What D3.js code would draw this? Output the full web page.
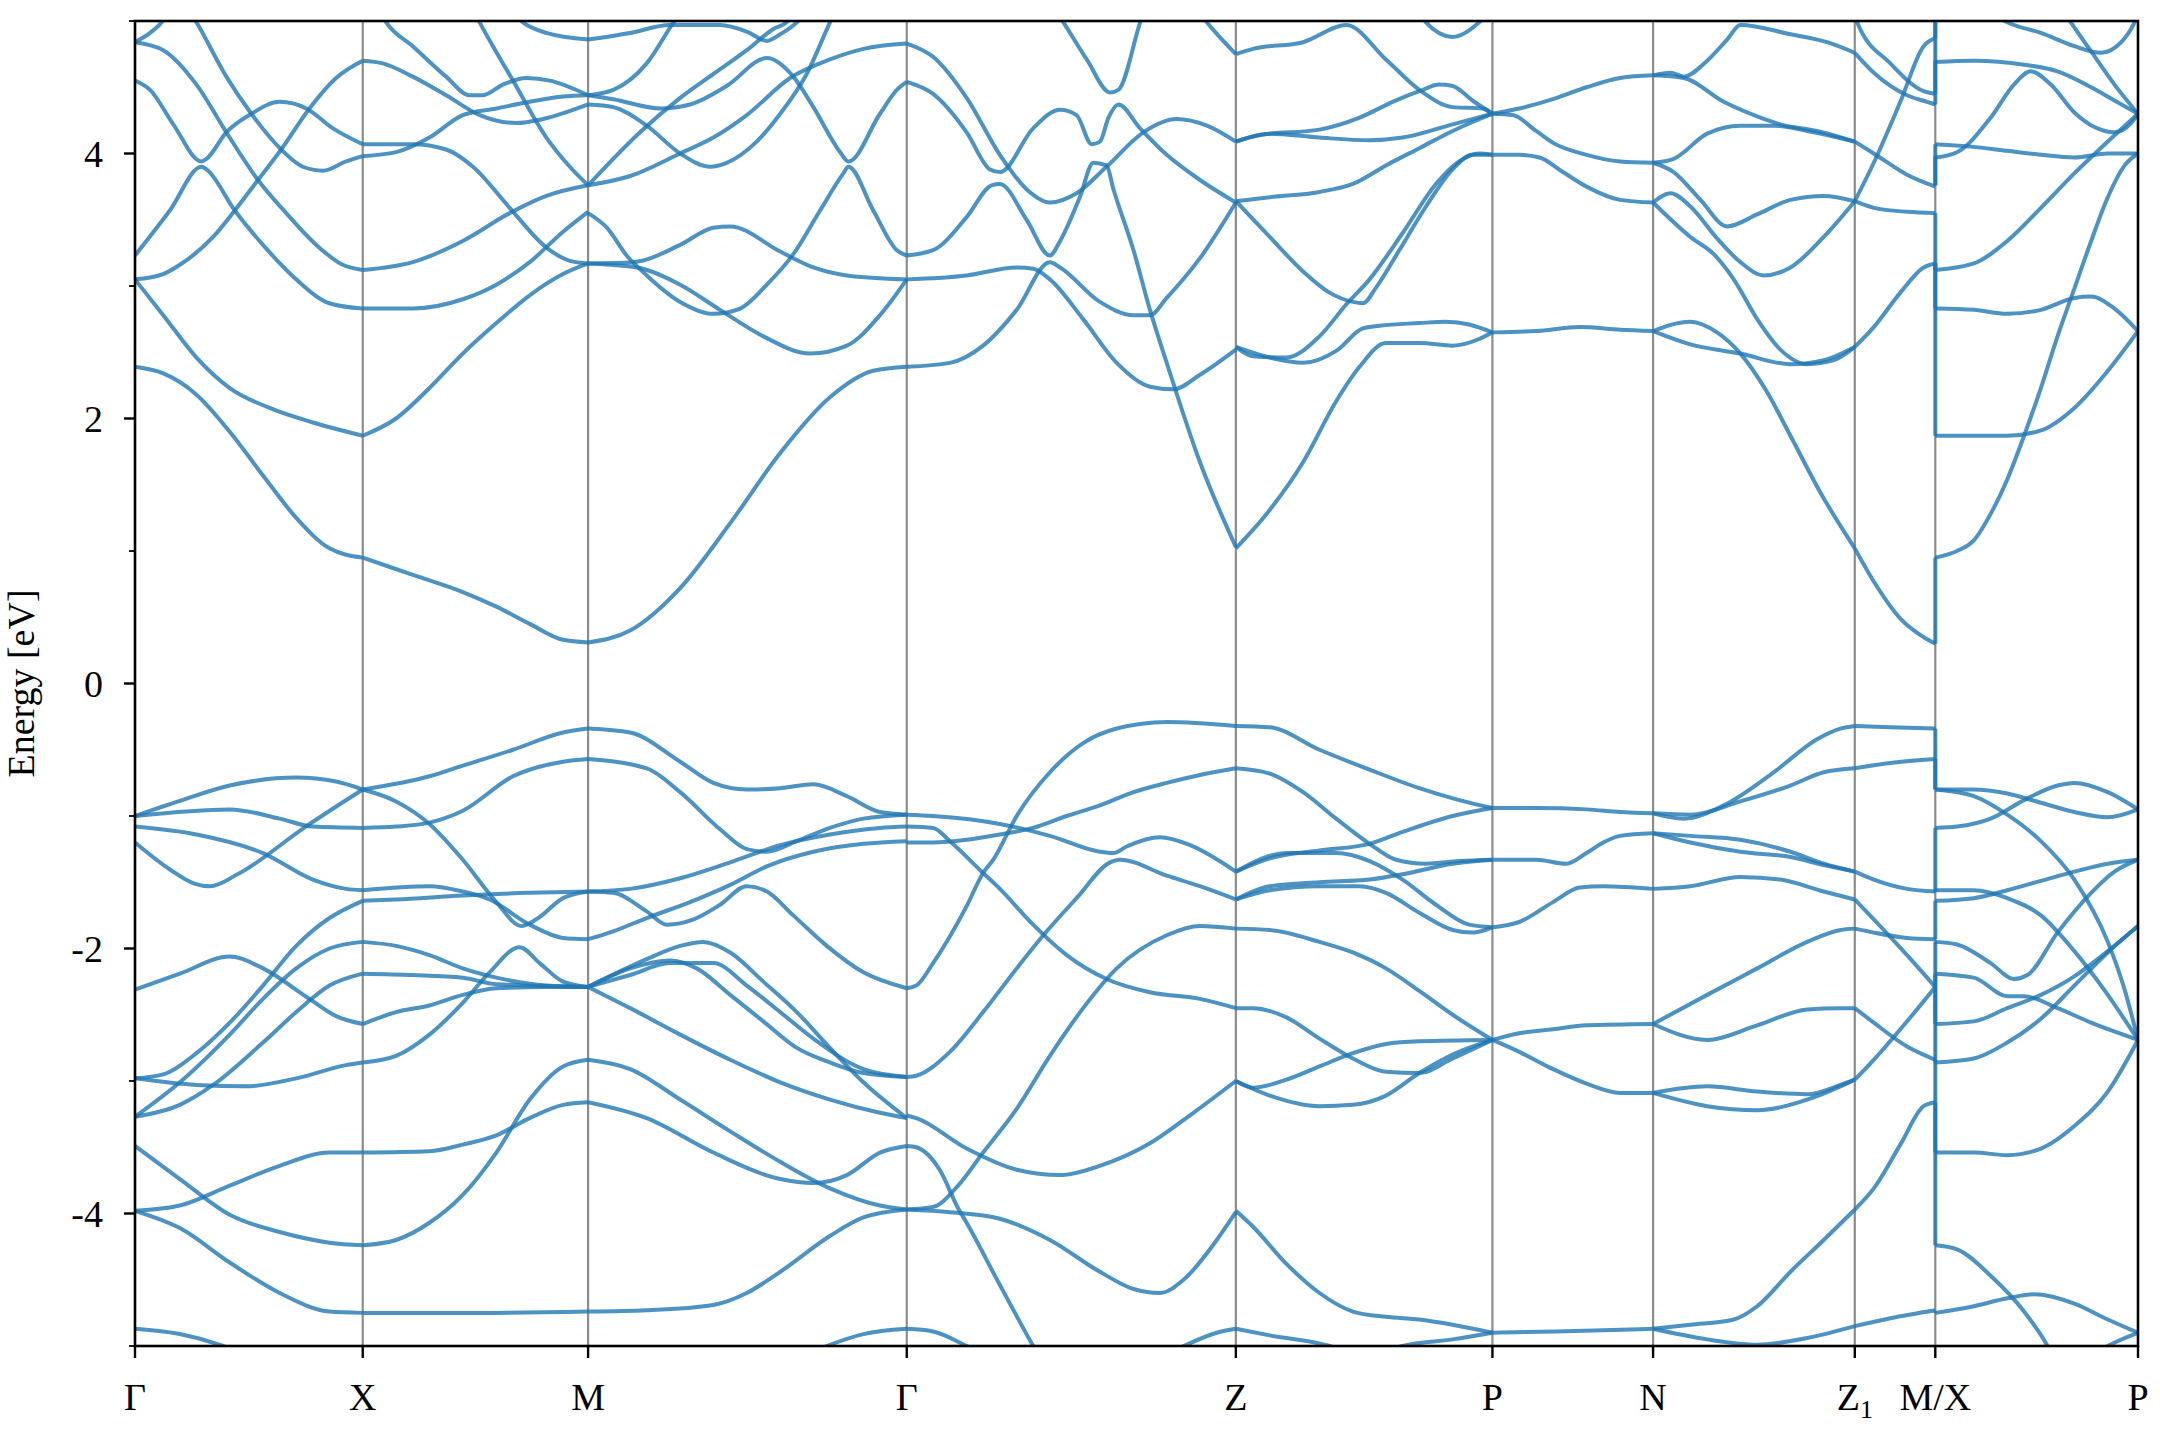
<!DOCTYPE html>
<html><head><meta charset="utf-8">
<script src="https://cdn.jsdelivr.net/npm/d3@7"></script>
<style>body{margin:0;background:#fff}</style>
</head><body><svg id="c" width="2160" height="1440"></svg>
<script>
const kLabels = ["Γ","X","M","Γ","Z","P","N","Z1","M/X","P"];
const kDist = [0,0.1137,0.2262,0.3853,0.5496,0.6777,0.7579,0.8586,0.8988,1.0];
const yTicks = [-4,-2,0,2,4];
const yMinor = [-5,-3,-1,1,3,5];

// each curve: [fraction along segment, energy eV]
const bandsGX = [
 [[0,4.84],[0.066,4.91],[0.117,4.99],[0.2,5.25]],
 [[0,4.84],[0.124,4.78],[0.27,4.52],[0.401,4.16],[0.54,3.80],[0.664,3.55],[0.796,3.31],[0.912,3.16],[1,3.12]],
 [[0,4.55],[0.066,4.48],[0.168,4.22],[0.292,3.94],[0.314,3.96],[0.401,4.16],[0.511,4.30],[0.635,4.39],[0.752,4.34],[0.869,4.19],[1,4.07]],
 [[0,3.23],[0.153,3.57],[0.292,3.90],[0.314,3.88],[0.438,3.57],[0.562,3.31],[0.708,3.05],[0.854,2.87],[1,2.83]],
 [[0,3.05],[0.124,3.09],[0.197,3.16],[0.343,3.37],[0.438,3.57],[0.54,3.80],[0.642,4.03],[0.766,4.34],[0.883,4.57],[1,4.70]],
 [[0,5.6],[0.15,5.3],[0.27,4.99],[0.401,4.58],[0.511,4.30],[0.642,4.03],[0.737,3.90],[0.825,3.87],[0.927,3.94],[1,3.98]],
 [[0,3.05],[0.124,2.78],[0.27,2.46],[0.416,2.23],[0.591,2.08],[0.781,1.97],[1,1.87]],
 [[0,2.39],[0.124,2.34],[0.27,2.18],[0.416,1.90],[0.562,1.57],[0.708,1.25],[0.854,1.02],[1,0.95]],
 [[0,-1.00],[0.197,-0.886],[0.416,-0.77],[0.708,-0.71],[0.883,-0.74],[1,-0.80]],
 [[0,-1.00],[0.416,-0.95],[0.635,-1.02],[0.781,-1.08],[1,-1.09]],
 [[0,-1.08],[0.27,-1.14],[0.562,-1.28],[0.781,-1.48],[0.927,-1.55],[1,-1.56]],
 [[0,-1.20],[0.15,-1.40],[0.26,-1.51],[0.33,-1.53],[0.45,-1.44],[0.75,-1.08],[1,-0.80]],
 [[0,-2.31],[0.197,-2.19],[0.416,-2.06],[0.562,-2.15],[0.766,-2.38],[0.883,-2.51],[1,-2.57]],
 [[0,-2.98],[0.124,-2.95],[0.27,-2.79],[0.416,-2.56],[0.562,-2.28],[0.708,-1.98],[0.854,-1.77],[1,-1.64]],
 [[0,-3.27],[0.197,-3.01],[0.416,-2.65],[0.562,-2.38],[0.708,-2.15],[0.854,-2.00],[1,-1.95]],
 [[0,-3.27],[0.197,-3.18],[0.343,-3.03],[0.562,-2.71],[0.708,-2.48],[0.854,-2.28],[1,-2.19]],
 [[0,-2.98],[0.27,-3.03],[0.489,-3.04],[0.708,-2.98],[0.927,-2.88],[1,-2.86]],
 [[0,-3.49],[0.197,-3.74],[0.416,-4.01],[0.635,-4.14],[0.854,-4.22],[1,-4.24]],
 [[0,-3.98],[0.197,-3.94],[0.416,-3.79],[0.635,-3.64],[0.854,-3.54],[1,-3.54]],
 [[0,-3.98],[0.197,-4.11],[0.416,-4.37],[0.635,-4.60],[0.854,-4.74],[1,-4.75]],
 [[0,-4.87],[0.197,-4.91],[0.387,-5.0],[0.562,-5.13]]
];
const bandsXM = [
 [[0,4.70],[0.089,4.68],[0.222,4.58],[0.37,4.44],[0.519,4.29],[0.681,4.23],[0.8,4.26],[1,4.37]],
 [[0,3.98],[0.148,4.01],[0.296,4.12],[0.444,4.29],[0.593,4.34],[0.741,4.39],[0.889,4.43],[1,4.44]],
 [[0,5.35],[0.104,4.99],[0.222,4.81],[0.37,4.58],[0.474,4.44],[0.533,4.44],[0.622,4.52],[0.726,4.57],[0.83,4.55],[1,4.44]],
 [[0.4,5.4],[0.519,4.99],[0.667,4.55],[0.815,4.12],[0.919,3.90],[1,3.76]],
 [[0.6,5.2],[0.711,4.99],[0.815,4.91],[1,4.86]],
 [[0,4.07],[0.222,4.07],[0.37,4.03],[0.489,3.90],[0.652,3.59],[0.815,3.29],[0.919,3.19],[1,3.17]],
 [[0,3.12],[0.222,3.18],[0.444,3.34],[0.652,3.55],[0.815,3.68],[1,3.76]],
 [[0,2.83],[0.222,2.83],[0.444,2.90],[0.593,3.01],[0.741,3.18],[0.889,3.41],[1,3.56]],
 [[0,1.87],[0.148,2.00],[0.296,2.23],[0.444,2.49],[0.593,2.72],[0.741,2.93],[0.889,3.09],[1,3.17]],
 [[0,0.95],[0.222,0.82],[0.444,0.69],[0.593,0.58],[0.741,0.45],[0.889,0.33],[1,0.31]],
 [[0,-0.80],[0.296,-0.70],[0.444,-0.62],[0.667,-0.50],[0.889,-0.37],[1,-0.34]],
 [[0,-0.80],[0.148,-0.89],[0.296,-1.06],[0.444,-1.33],[0.593,-1.65],[0.704,-1.83],[0.77,-1.78],[0.889,-1.62],[1,-1.57]],
 [[0,-1.09],[0.148,-1.08],[0.296,-1.05],[0.444,-0.96],[0.667,-0.70],[0.889,-0.59],[1,-0.57]],
 [[0,-1.56],[0.296,-1.53],[0.444,-1.57],[0.563,-1.63],[0.741,-1.82],[0.889,-1.92],[1,-1.93]],
 [[0,-1.64],[0.148,-1.63],[0.444,-1.60],[0.741,-1.58],[1,-1.57]],
 [[0,-1.95],[0.148,-1.98],[0.296,-2.05],[0.444,-2.15],[0.593,-2.22],[0.815,-2.28],[1,-2.29]],
 [[0,-2.19],[0.222,-2.20],[0.444,-2.22],[0.593,-2.27],[1,-2.29]],
 [[0,-2.57],[0.148,-2.48],[0.296,-2.43],[0.444,-2.35],[0.593,-2.30],[0.815,-2.29],[1,-2.29]],
 [[0,-2.86],[0.148,-2.81],[0.296,-2.65],[0.444,-2.41],[0.563,-2.18],[0.696,-1.99],[0.785,-2.11],[0.889,-2.25],[1,-2.29]],
 [[0,-3.54],[0.296,-3.53],[0.444,-3.48],[0.593,-3.41],[0.741,-3.28],[0.889,-3.18],[1,-3.16]],
 [[0,-4.24],[0.148,-4.20],[0.296,-4.07],[0.444,-3.86],[0.593,-3.54],[0.741,-3.14],[0.889,-2.89],[1,-2.84]],
 [[0,-4.75],[0.5,-4.75],[1,-4.74]]
];
const bandsMG = [
 [[0,4.86],[0.132,4.91],[0.257,4.97],[0.414,4.97],[0.498,4.92],[0.561,4.85],[0.603,4.90],[0.655,4.99],[0.72,5.2]],
 [[0,4.44],[0.079,4.48],[0.184,4.68],[0.268,4.99],[0.33,5.2]],
 [[0,4.44],[0.079,4.41],[0.226,4.34],[0.32,4.37],[0.435,4.51],[0.561,4.72],[0.644,4.58],[0.707,4.35],[0.791,4.01],[0.817,3.94],[0.916,4.30],[0.969,4.48],[1,4.54]],
 [[0,4.37],[0.079,4.35],[0.184,4.21],[0.289,4.00],[0.383,3.90],[0.435,3.93],[0.529,4.09],[0.603,4.30],[0.686,4.60],[0.759,4.99],[0.8,5.2]],
 [[0,3.76],[0.079,3.96],[0.163,4.16],[0.289,4.42],[0.393,4.60],[0.498,4.78],[0.582,4.94],[0.623,4.99],[0.68,5.2]],
 [[0,3.76],[0.132,3.83],[0.289,4.00],[0.393,4.12],[0.498,4.29],[0.634,4.57],[0.759,4.71],[0.864,4.79],[1,4.83]],
 [[0,3.55],[0.059,3.44],[0.121,3.23],[0.184,3.08],[0.289,2.88],[0.393,2.79],[0.477,2.83],[0.561,3.01],[0.644,3.24],[0.728,3.57],[0.801,3.85],[0.817,3.90],[0.895,3.57],[0.969,3.27],[1,3.23]],
 [[0,3.17],[0.153,3.14],[0.289,3.01],[0.414,2.82],[0.55,2.62],[0.697,2.49],[0.812,2.55],[0.916,2.78],[1,3.05]],
 [[0,3.17],[0.142,3.18],[0.289,3.31],[0.393,3.44],[0.446,3.45],[0.603,3.26],[0.707,3.14],[0.812,3.08],[1,3.05]],
 [[0,0.31],[0.132,0.40],[0.289,0.72],[0.446,1.21],[0.603,1.74],[0.759,2.16],[0.895,2.36],[1,2.39]],
 [[0,-0.34],[0.132,-0.37],[0.289,-0.59],[0.393,-0.75],[0.498,-0.80],[0.603,-0.79],[0.707,-0.76],[0.812,-0.85],[0.916,-0.97],[1,-0.99]],
 [[0,-0.57],[0.184,-0.64],[0.289,-0.82],[0.414,-1.10],[0.498,-1.25],[0.561,-1.27],[0.655,-1.19],[0.759,-1.09],[0.864,-1.02],[1,-0.99]],
 [[0,-1.57],[0.079,-1.58],[0.184,-1.72],[0.247,-1.82],[0.331,-1.78],[0.414,-1.67],[0.498,-1.53],[0.561,-1.57],[0.644,-1.75],[0.749,-1.98],[0.864,-2.18],[1,-2.30]],
 [[0,-1.57],[0.132,-1.55],[0.289,-1.47],[0.446,-1.35],[0.603,-1.22],[0.759,-1.14],[0.916,-1.09],[1,-1.08]],
 [[0,-1.93],[0.079,-1.87],[0.184,-1.77],[0.32,-1.65],[0.446,-1.52],[0.561,-1.38],[0.707,-1.27],[0.864,-1.21],[1,-1.19]],
 [[0,-2.29],[0.132,-2.15],[0.257,-2.09],[0.341,-2.15],[0.446,-2.35],[0.55,-2.55],[0.655,-2.75],[0.759,-2.86],[0.864,-2.94],[1,-2.97]],
 [[0,-2.29],[0.184,-2.08],[0.289,-1.98],[0.362,-1.95],[0.446,-2.03],[0.55,-2.25],[0.655,-2.48],[0.759,-2.75],[0.864,-3.01],[1,-3.28]],
 [[0,-2.29],[0.132,-2.45],[0.289,-2.65],[0.446,-2.84],[0.603,-3.01],[0.759,-3.14],[0.916,-3.24],[1,-3.28]],
 [[0,-2.29],[0.132,-2.20],[0.257,-2.11],[0.393,-2.11],[0.498,-2.28],[0.603,-2.48],[0.707,-2.68],[0.864,-2.91],[1,-2.97]],
 [[0,-4.74],[0.184,-4.73],[0.393,-4.69],[0.498,-4.60],[0.603,-4.44],[0.759,-4.17],[0.864,-4.03],[1,-3.97]],
 [[0,-2.84],[0.132,-2.91],[0.289,-3.14],[0.446,-3.38],[0.603,-3.61],[0.759,-3.81],[0.916,-3.94],[1,-3.97]],
 [[0,-3.16],[0.184,-3.28],[0.393,-3.54],[0.603,-3.74],[0.707,-3.77],[0.812,-3.71],[0.916,-3.54],[1,-3.49]],
 [[0.65,-5.1],[0.749,-5.0],[0.864,-4.91],[1,-4.87]]
];
const bandsGZ = [
 [[0,4.83],[0.08,4.73],[0.182,4.42],[0.283,3.99],[0.364,3.73],[0.435,3.63],[0.516,3.70],[0.607,3.90],[0.719,4.16],[0.82,4.26],[0.912,4.21],[1,4.09]],
 [[0,4.54],[0.08,4.45],[0.182,4.16],[0.253,3.88],[0.283,3.86],[0.384,4.19],[0.466,4.33],[0.516,4.29],[0.562,4.07],[0.587,4.09],[0.613,4.27],[0.643,4.37],[0.709,4.19],[0.79,3.99],[0.891,3.80],[1,3.63]],
 [[0,3.23],[0.08,3.27],[0.182,3.52],[0.258,3.76],[0.283,3.77],[0.364,3.50],[0.435,3.23],[0.466,3.34],[0.526,3.67],[0.567,3.93],[0.607,3.91],[0.628,3.73],[0.689,3.27],[0.739,2.82],[0.79,2.42],[0.891,1.67],[1,1.03]],
 [[0,3.05],[0.182,3.08],[0.334,3.14],[0.384,3.13],[0.435,3.05],[0.536,2.75],[0.638,2.42],[0.739,2.24],[0.81,2.22],[0.891,2.33],[1,2.52]],
 [[0,2.39],[0.131,2.42],[0.232,2.55],[0.334,2.82],[0.435,3.18],[0.466,3.14],[0.587,2.88],[0.689,2.78],[0.739,2.78],[0.79,2.91],[0.891,3.21],[1,3.63]],
 [[0.42,5.2],[0.476,4.99],[0.547,4.71],[0.618,4.46],[0.643,4.48],[0.709,4.99],[0.75,5.3]],
 [[0.85,5.2],[0.912,4.99],[1,4.75]],
 [[0,-1.08],[0.08,-1.09],[0.131,-1.19],[0.232,-1.43],[0.283,-1.55],[0.384,-1.82],[0.486,-2.05],[0.607,-2.23],[0.739,-2.33],[0.891,-2.38],[1,-2.45]],
 [[0,-2.30],[0.029,-2.28],[0.08,-2.11],[0.182,-1.68],[0.232,-1.43],[0.263,-1.33],[0.334,-1.00],[0.435,-0.67],[0.536,-0.45],[0.638,-0.34],[0.79,-0.29],[1,-0.32]],
 [[0,-0.99],[0.08,-1.00],[0.283,-1.06],[0.435,-1.15],[0.587,-1.27],[0.628,-1.28],[0.668,-1.23],[0.77,-1.16],[0.861,-1.22],[1,-1.42]],
 [[0,-1.20],[0.08,-1.20],[0.182,-1.18],[0.283,-1.14],[0.384,-1.09],[0.486,-1.00],[0.587,-0.92],[0.689,-0.82],[0.79,-0.75],[0.891,-0.69],[1,-0.64]],
 [[0,-2.97],[0.029,-2.96],[0.131,-2.78],[0.232,-2.48],[0.334,-2.15],[0.415,-1.90],[0.516,-1.62],[0.618,-1.35],[0.648,-1.33],[0.79,-1.45],[0.891,-1.53],[1,-1.63]],
 [[0,-3.26],[0.029,-3.28],[0.182,-3.51],[0.334,-3.67],[0.466,-3.71],[0.587,-3.64],[0.739,-3.47],[0.871,-3.24],[1,-3.00]],
 [[0,-3.49],[0.029,-3.50],[0.1,-3.67],[0.156,-3.96],[0.182,-4.07],[0.283,-4.54],[0.384,-5.0],[0.5,-5.5]],
 [[0,-3.97],[0.08,-3.95],[0.156,-3.79],[0.232,-3.54],[0.334,-3.21],[0.435,-2.81],[0.536,-2.45],[0.638,-2.15],[0.79,-1.90],[0.891,-1.83],[1,-1.85]],
 [[0,-3.97],[0.131,-3.99],[0.283,-4.04],[0.435,-4.20],[0.587,-4.44],[0.689,-4.57],[0.77,-4.60],[0.841,-4.50],[0.942,-4.20],[1,-3.99]],
 [[0,-4.87],[0.08,-4.89],[0.182,-5.0],[0.3,-5.15]],
 [[0.75,-5.1],[0.841,-5.0],[0.942,-4.90],[1,-4.87]]
];
const bandsZP = [
 [[0,4.75],[0.067,4.79],[0.262,4.84],[0.43,4.97],[0.585,4.71],[0.715,4.48],[0.845,4.35],[0.961,4.34],[1,4.30]],
 [[0.68,5.2],[0.741,4.99],[0.845,4.88],[0.948,4.99],[1,5.1]],
 [[0,4.09],[0.093,4.14],[0.326,4.18],[0.482,4.27],[0.611,4.39],[0.715,4.47],[0.793,4.52],[0.845,4.51],[0.922,4.40],[1,4.30]],
 [[0,4.09],[0.132,4.15],[0.326,4.12],[0.521,4.10],[0.65,4.12],[0.845,4.22],[1,4.30]],
 [[0,3.64],[0.132,3.67],[0.326,3.71],[0.456,3.77],[0.585,3.91],[0.715,4.04],[0.845,4.17],[1,4.30]],
 [[0,3.64],[0.132,3.37],[0.262,3.11],[0.365,2.95],[0.456,2.88],[0.495,2.87],[0.547,2.99],[0.637,3.27],[0.741,3.60],[0.845,3.88],[0.922,3.99],[1,3.99]],
 [[0,2.54],[0.067,2.47],[0.197,2.46],[0.326,2.62],[0.43,2.86],[0.521,3.05],[0.65,3.40],[0.78,3.77],[0.87,3.94],[0.948,4.00],[1,3.99]],
 [[0,2.54],[0.132,2.46],[0.262,2.42],[0.391,2.51],[0.495,2.68],[0.56,2.70],[0.715,2.72],[0.819,2.73],[0.909,2.71],[1,2.65]],
 [[0,1.02],[0.132,1.31],[0.262,1.67],[0.391,2.13],[0.482,2.39],[0.585,2.57],[0.715,2.57],[0.845,2.55],[0.948,2.60],[1,2.65]],
 [[0,-0.32],[0.132,-0.33],[0.326,-0.50],[0.521,-0.65],[0.715,-0.79],[0.87,-0.88],[1,-0.94]],
 [[0,-0.64],[0.132,-0.68],[0.262,-0.82],[0.391,-1.02],[0.521,-1.21],[0.624,-1.33],[0.741,-1.36],[0.87,-1.34],[1,-1.33]],
 [[0,-1.42],[0.132,-1.32],[0.326,-1.26],[0.521,-1.21],[0.65,-1.12],[0.845,-1.00],[1,-0.94]],
 [[0,-1.42],[0.197,-1.28],[0.391,-1.28],[0.521,-1.34],[0.65,-1.48],[0.78,-1.67],[0.909,-1.82],[1,-1.84]],
 [[0,-1.63],[0.132,-1.53],[0.326,-1.50],[0.521,-1.48],[0.65,-1.44],[0.845,-1.36],[1,-1.33]],
 [[0,-1.63],[0.132,-1.56],[0.326,-1.53],[0.482,-1.53],[0.585,-1.58],[0.715,-1.73],[0.845,-1.86],[0.922,-1.88],[1,-1.84]],
 [[0,-1.85],[0.132,-1.86],[0.326,-1.95],[0.456,-2.03],[0.585,-2.15],[0.715,-2.32],[0.845,-2.50],[1,-2.69]],
 [[0,-2.45],[0.067,-2.45],[0.197,-2.52],[0.326,-2.68],[0.456,-2.83],[0.585,-2.93],[0.715,-2.94],[0.845,-2.83],[1,-2.69]],
 [[0,-3.00],[0.067,-3.05],[0.197,-2.99],[0.326,-2.89],[0.456,-2.79],[0.585,-2.72],[0.715,-2.70],[1,-2.69]],
 [[0,-3.00],[0.132,-3.11],[0.326,-3.19],[0.456,-3.18],[0.585,-3.11],[0.715,-2.94],[0.845,-2.80],[1,-2.69]],
 [[0,-3.98],[0.067,-4.10],[0.197,-4.38],[0.326,-4.60],[0.456,-4.74],[0.585,-4.78],[0.715,-4.80],[0.845,-4.84],[1,-4.90]],
 [[0,-4.87],[0.132,-4.92],[0.365,-5.0],[0.5,-5.1]],
 [[0.5,-5.1],[0.65,-5.0],[0.845,-4.95],[1,-4.90]]
];
const bandsPN = [
 [[0,4.30],[0.167,4.34],[0.377,4.41],[0.586,4.50],[0.795,4.57],[1,4.59]],
 [[0,4.30],[0.126,4.29],[0.272,4.17],[0.377,4.08],[0.586,3.99],[0.795,3.94],[1,3.93]],
 [[0,3.99],[0.167,3.99],[0.293,3.97],[0.439,3.86],[0.586,3.75],[0.795,3.65],[1,3.63]],
 [[0,2.65],[0.272,2.66],[0.544,2.69],[0.795,2.67],[1,2.66]],
 [[0,-0.94],[0.272,-0.94],[0.586,-0.95],[0.795,-0.97],[1,-0.98]],
 [[0,-1.33],[0.272,-1.33],[0.46,-1.36],[0.586,-1.28],[0.69,-1.20],[0.795,-1.15],[1,-1.13]],
 [[0,-1.84],[0.167,-1.80],[0.377,-1.65],[0.544,-1.54],[0.69,-1.53],[1,-1.55]],
 [[0,-2.69],[0.167,-2.64],[0.377,-2.61],[0.586,-2.58],[1,-2.57]],
 [[0,-2.69],[0.167,-2.78],[0.377,-2.91],[0.586,-3.02],[0.795,-3.09],[1,-3.09]],
 [[0,-4.90],[0.4,-4.89],[1,-4.87]]
];
const bandsNZ1 = [
 [[0,4.59],[0.086,4.61],[0.152,4.58],[0.268,4.70],[0.367,4.86],[0.433,4.97],[0.681,4.90],[0.863,4.84],[1,4.76]],
 [[0,4.59],[0.152,4.57],[0.35,4.39],[0.516,4.28],[0.631,4.22],[0.813,4.17],[1,4.09]],
 [[0,3.93],[0.102,3.96],[0.268,4.15],[0.433,4.21],[0.598,4.21],[0.764,4.17],[1,4.09]],
 [[0,3.93],[0.102,3.86],[0.235,3.65],[0.367,3.45],[0.516,3.54],[0.681,3.65],[0.846,3.68],[1,3.64]],
 [[0,3.63],[0.086,3.70],[0.185,3.60],[0.317,3.36],[0.433,3.18],[0.549,3.08],[0.681,3.14],[0.846,3.37],[1,3.64]],
 [[0,3.63],[0.185,3.37],[0.301,3.24],[0.4,3.05],[0.516,2.75],[0.631,2.52],[0.764,2.41],[0.896,2.44],[1,2.54]],
 [[0,2.66],[0.185,2.73],[0.317,2.65],[0.433,2.49],[0.565,2.20],[0.681,1.87],[0.83,1.44],[1,1.02]],
 [[0,2.66],[0.185,2.56],[0.433,2.49],[0.681,2.41],[0.846,2.44],[1,2.54]],
 [[0,-0.98],[0.152,-1.02],[0.35,-0.92],[0.598,-0.67],[0.813,-0.42],[0.929,-0.34],[1,-0.32]],
 [[0,-0.98],[0.185,-0.99],[0.433,-0.89],[0.681,-0.77],[0.846,-0.67],[1,-0.64]],
 [[0,-1.13],[0.185,-1.15],[0.433,-1.18],[0.681,-1.27],[0.846,-1.36],[1,-1.42]],
 [[0,-1.13],[0.185,-1.20],[0.433,-1.27],[0.681,-1.31],[0.846,-1.37],[1,-1.42]],
 [[0,-1.55],[0.185,-1.53],[0.433,-1.46],[0.631,-1.48],[0.846,-1.57],[1,-1.63]],
 [[0,-2.57],[0.268,-2.35],[0.516,-2.15],[0.764,-1.95],[0.929,-1.86],[1,-1.85]],
 [[0,-2.57],[0.268,-2.69],[0.516,-2.58],[0.764,-2.46],[0.929,-2.45],[1,-2.45]],
 [[0,-3.09],[0.268,-3.04],[0.516,-3.08],[0.764,-3.10],[0.929,-3.03],[1,-2.99]],
 [[0,-3.09],[0.268,-3.19],[0.516,-3.22],[0.764,-3.14],[0.929,-3.04],[1,-2.99]],
 [[0,-4.87],[0.185,-4.84],[0.4,-4.80],[0.516,-4.70],[0.681,-4.44],[0.846,-4.20],[1,-3.97]],
 [[0,-4.87],[0.268,-4.95],[0.516,-4.99],[0.764,-4.94],[1,-4.85]]
];
const bandsZ1M = [
 [[0,5.05],[0.029,4.99],[0.442,4.68],[0.855,4.47],[1,4.45]],
 [[0,4.76],[0.236,4.61],[0.649,4.44],[0.897,4.39],[1,4.37]],
 [[0,4.09],[0.236,4.00],[0.649,3.84],[1,3.75]],
 [[0,3.64],[0.236,3.93],[0.566,4.39],[0.855,4.81],[1,4.87]],
 [[0,3.64],[0.236,3.59],[0.649,3.56],[1,3.55]],
 [[0,2.54],[0.236,2.69],[0.566,2.95],[0.855,3.14],[1,3.17]],
 [[0,1.02],[0.236,0.77],[0.566,0.49],[0.855,0.35],[1,0.30]],
 [[0,-0.32],[0.442,-0.33],[1,-0.34]],
 [[0,-0.64],[0.442,-0.60],[1,-0.57]],
 [[0,-1.42],[0.236,-1.48],[0.649,-1.55],[1,-1.57]],
 [[0,-1.63],[0.236,-1.78],[0.649,-2.05],[1,-2.29]],
 [[0,-1.85],[0.236,-1.88],[0.649,-1.92],[1,-1.93]],
 [[0,-2.45],[0.236,-2.56],[0.649,-2.74],[1,-2.84]],
 [[0,-2.99],[0.236,-2.84],[0.649,-2.55],[1,-2.29]],
 [[0,-3.97],[0.236,-3.81],[0.566,-3.48],[0.855,-3.19],[1,-3.16]],
 [[0,-4.85],[0.442,-4.79],[1,-4.73]]
];
const bandsXP = [
 [[0,4.69],[0.19,4.70],[0.438,4.67],[0.603,4.62],[0.769,4.50],[0.884,4.40],[1,4.30]],
 [[0.2,5.15],[0.355,4.99],[0.521,4.91],[0.686,4.81],[0.818,4.76],[0.917,4.84],[0.983,4.99],[1,5.05]],
 [[0.6,5.15],[0.669,4.99],[0.769,4.77],[0.884,4.52],[1,4.30]],
 [[0,3.97],[0.107,4.01],[0.273,4.27],[0.388,4.52],[0.471,4.62],[0.57,4.52],[0.686,4.31],[0.785,4.20],[0.884,4.16],[0.967,4.23],[1,4.30]],
 [[0,4.07],[0.19,4.05],[0.355,4.02],[0.521,3.99],[0.686,3.97],[0.851,4.00],[1,4.00]],
 [[0,3.12],[0.19,3.17],[0.355,3.34],[0.521,3.59],[0.686,3.85],[0.851,4.09],[1,4.30]],
 [[0,2.83],[0.19,2.82],[0.355,2.79],[0.521,2.82],[0.686,2.91],[0.769,2.92],[0.884,2.83],[1,2.66]],
 [[0,1.87],[0.19,1.87],[0.355,1.87],[0.521,1.91],[0.686,2.08],[0.851,2.36],[1,2.66]],
 [[0,0.95],[0.107,1.00],[0.19,1.08],[0.273,1.28],[0.355,1.54],[0.438,1.87],[0.521,2.23],[0.603,2.62],[0.686,2.98],[0.769,3.34],[0.851,3.67],[0.934,3.91],[1,4.00]],
 [[0,-0.80],[0.19,-0.80],[0.355,-0.83],[0.521,-0.90],[0.686,-0.97],[0.851,-1.01],[1,-0.95]],
 [[0,-0.80],[0.19,-0.85],[0.355,-0.99],[0.521,-1.19],[0.686,-1.48],[0.851,-1.95],[0.934,-2.31],[1,-2.69]],
 [[0,-1.09],[0.107,-1.08],[0.273,-1.02],[0.438,-0.88],[0.603,-0.77],[0.686,-0.75],[0.851,-0.82],[1,-0.95]],
 [[0,-1.64],[0.19,-1.62],[0.355,-1.56],[0.521,-1.49],[0.686,-1.42],[0.851,-1.36],[1,-1.33]],
 [[0,-1.56],[0.19,-1.56],[0.355,-1.62],[0.521,-1.75],[0.686,-2.02],[0.851,-2.35],[1,-2.69]],
 [[0,-1.95],[0.107,-1.97],[0.273,-2.11],[0.388,-2.23],[0.455,-2.20],[0.603,-1.88],[0.769,-1.58],[0.884,-1.42],[1,-1.33]],
 [[0,-2.19],[0.19,-2.22],[0.355,-2.36],[0.438,-2.36],[0.603,-2.45],[0.769,-2.56],[1,-2.69]],
 [[0,-2.57],[0.19,-2.55],[0.355,-2.45],[0.521,-2.35],[0.686,-2.21],[0.851,-2.02],[1,-1.83]],
 [[0,-2.86],[0.19,-2.83],[0.355,-2.71],[0.521,-2.53],[0.686,-2.28],[0.851,-2.03],[1,-1.83]],
 [[0,-3.54],[0.19,-3.54],[0.355,-3.56],[0.521,-3.51],[0.686,-3.34],[0.851,-3.08],[1,-2.69]],
 [[0,-4.24],[0.107,-4.27],[0.273,-4.47],[0.438,-4.74],[0.554,-5.0],[0.65,-5.3]],
 [[0,-4.75],[0.19,-4.70],[0.355,-4.64],[0.488,-4.61],[0.686,-4.68],[0.851,-4.80],[1,-4.90]],
 [[0.75,-5.1],[0.851,-5.0],[1,-4.90]]
];
// discontinuity at M|X: [energy at M, energy at X]
const jumpMX = [[4.87,5.5],[4.45,5.3],[4.37,4.70],[3.76,4.07],[3.76,3.98],[3.55,3.12],[3.17,2.83],[3.17,1.87],[0.30,0.95],
 [-0.34,-0.80],[-0.57,-0.80],[-1.57,-1.09],[-1.57,-1.56],[-1.93,-1.64],[-2.29,-1.95],[-2.29,-2.19],[-2.29,-2.57],[-2.29,-2.86],
 [-2.84,-3.54],[-3.16,-4.24],[-4.74,-4.75]];

const segments = [bandsGX,bandsXM,bandsMG,bandsGZ,bandsZP,bandsPN,bandsNZ1,bandsZ1M,bandsXP];

const L=135, R=2138, T=21, B=1346;
const svg = d3.select("#c");
const x = d3.scaleLinear().domain([0,1]).range([L,R]);
const y = d3.scaleLinear().domain([-5,5]).range([B,T]);
const font = "'Liberation Serif','Times New Roman',serif";

svg.append("defs").append("clipPath").attr("id","clip")
  .append("rect").attr("x",L).attr("y",T).attr("width",R-L).attr("height",B-T);

// vertical high-symmetry lines
svg.append("g").selectAll("line").data(kDist.slice(1,-1)).join("line")
  .attr("x1",d=>x(d)).attr("x2",d=>x(d)).attr("y1",T).attr("y2",B)
  .attr("stroke","#000").attr("stroke-opacity",0.45).attr("stroke-width",2.2);

const g = svg.append("g").attr("clip-path","url(#clip)");
const line = d3.line().curve(d3.curveMonotoneX);
const bandColor = "#1f77b4";
const bw = 4.0, bo = 0.8;
segments.forEach((seg,i)=>{
  const k0 = kDist[i], k1 = kDist[i+1];
  seg.forEach(c=>{
    g.append("path")
      .attr("d", line(c.map(p=>[x(k0+p[0]*(k1-k0)), y(p[1])])))
      .attr("fill","none").attr("stroke",bandColor).attr("stroke-opacity",bo)
      .attr("stroke-width",bw).attr("stroke-linejoin","round").attr("stroke-linecap","butt");
  });
});
g.append("g").selectAll("line").data(jumpMX).join("line")
  .attr("x1",x(kDist[8])).attr("x2",x(kDist[8]))
  .attr("y1",d=>y(d[0])).attr("y2",d=>y(d[1]))
  .attr("stroke",bandColor).attr("stroke-opacity",bo).attr("stroke-width",bw);

// frame
svg.append("rect").attr("x",L).attr("y",T).attr("width",R-L).attr("height",B-T)
  .attr("fill","none").attr("stroke","#000").attr("stroke-width",2.6);

// x ticks
svg.append("g").selectAll("line").data(kDist).join("line")
  .attr("x1",d=>x(d)).attr("x2",d=>x(d)).attr("y1",B).attr("y2",B+12)
  .attr("stroke","#000").attr("stroke-width",2.4);
const xl = svg.append("g").selectAll("text").data(kLabels).join("text")
  .attr("x",(d,i)=>x(kDist[i])).attr("y",B+64)
  .attr("text-anchor","middle").attr("font-family",font).attr("font-size",38).attr("fill","#000");
xl.each(function(d){
  const t = d3.select(this);
  if(d==="Z1"){ t.text("Z"); t.append("tspan").attr("font-size",26).attr("dy",8).text("1"); }
  else t.text(d);
});

// y ticks
svg.append("g").selectAll("line").data(yTicks).join("line")
  .attr("x1",L-11).attr("x2",L).attr("y1",d=>y(d)).attr("y2",d=>y(d))
  .attr("stroke","#000").attr("stroke-width",2.4);
svg.append("g").selectAll("line").data(yMinor).join("line")
  .attr("x1",L-6).attr("x2",L).attr("y1",d=>y(d)).attr("y2",d=>y(d))
  .attr("stroke","#000").attr("stroke-width",1.8);
svg.append("g").selectAll("text").data(yTicks).join("text")
  .attr("x",L-32).attr("y",d=>y(d)).attr("dy","0.35em")
  .attr("text-anchor","end").attr("font-family",font).attr("font-size",38).attr("fill","#000")
  .text(d=>d<0?"-"+Math.abs(d):String(d));
svg.append("text").attr("transform",`translate(34,${(T+B)/2}) rotate(-90)`)
  .attr("text-anchor","middle").attr("font-family",font).attr("font-size",38).attr("fill","#000")
  .text("Energy [eV]");
</script></body></html>
